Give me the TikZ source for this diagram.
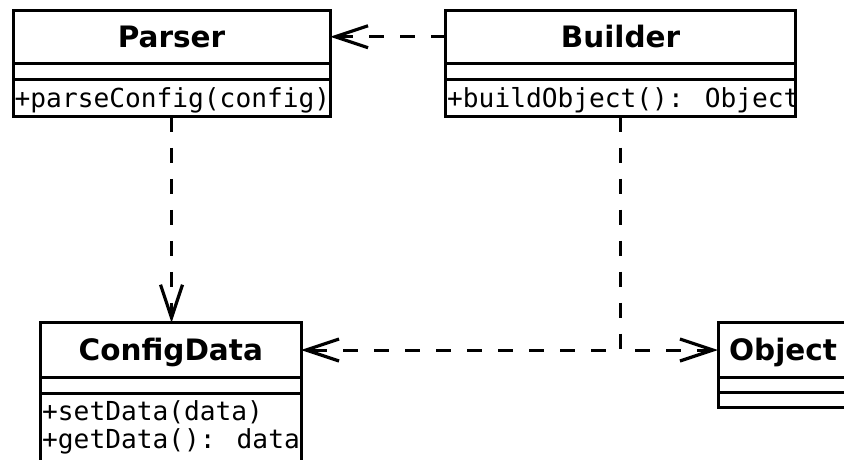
\documentclass[tikz,border=0pt]{standalone}
\usepackage{fontspec}
\setmainfont{DejaVu Sans}
\newfontfamily\umlmono{DejaVu Sans Mono}
\usetikzlibrary{arrows.meta,calc}
\begin{document}
\begin{tikzpicture}[x=1pt,y=-1pt,
  box/.style={draw, line width=3pt, outer sep=0pt, inner sep=0pt, rectangle},
  hdr/.style={box, font=\fontsize{29.5}{30}\selectfont\bfseries, text height=21.5pt, text depth=0pt},
  cmp/.style={box, anchor=north},
  op/.style={anchor=base west, inner sep=0pt, font=\fontsize{26.2}{28}\umlmono},
  dep/.style={line width=3pt, dash pattern=on 15pt off 16pt,
    -{Straight Barb[length=33pt,width=22pt,line width=3.2pt]}}]
\useasboundingbox (0,0) rectangle (844,460);
\clip (0,0) rectangle (844,460);

% Parser class
\node[hdr, minimum width=317pt, minimum height=53pt] (parser) at (171.5,36.75) {Parser};
\node[cmp, minimum width=317pt, minimum height=16pt] (parserAttr) at (parser.south) {};
\node[cmp, minimum width=317pt, minimum height=37.5pt] (parserOps) at (parserAttr.south) {};
\node[op] (parserOp1) at ($(parserOps.north west)+(1.5,28)$) {+parseConfig(config)};

% Builder class
\node[hdr, minimum width=350pt, minimum height=53pt] (builder) at (620.5,36.75) {Builder};
\node[cmp, minimum width=350pt, minimum height=16pt] (builderAttr) at (builder.south) {};
\node[cmp, minimum width=350pt, minimum height=37.5pt] (builderOps) at (builderAttr.south) {};
\node[op] (builderOp1) at ($(builderOps.north west)+(1.5,28)$) {+buildObject(): Object};

% ConfigData class
\node[hdr, minimum width=260.5pt, minimum height=54.5pt] (config) at (170.75,350) {ConfigData};
\node[cmp, minimum width=260.5pt, minimum height=16pt] (configAttr) at (config.south) {};
\node[cmp, minimum width=260.5pt, minimum height=80pt] (configOps) at (configAttr.south) {};
\node[op] (configOp1) at ($(configOps.north west)+(1.5,27)$) {+setData(data)};
\node[op] (configOp2) at ($(configOps.north west)+(1.5,55)$) {+getData(): data};

% Object class
\node[hdr, minimum width=130pt, minimum height=54.5pt] (object) at (783,350) {Object};
\node[cmp, minimum width=130pt, minimum height=15.5pt] (objectAttr) at (object.south) {};
\node[cmp, minimum width=130pt, minimum height=15pt] (objectOps) at (objectAttr.south) {};

% Dependencies
\draw[dep] (builder.west) -- (parser.east);
\draw[dep] (parserOps.south) -- (parserOps.south |- config.north);
\draw[dep] (builderOps.south) |- (config.east);
\draw[dep] (builderOps.south) |- (object.west);
\end{tikzpicture}
\end{document}
